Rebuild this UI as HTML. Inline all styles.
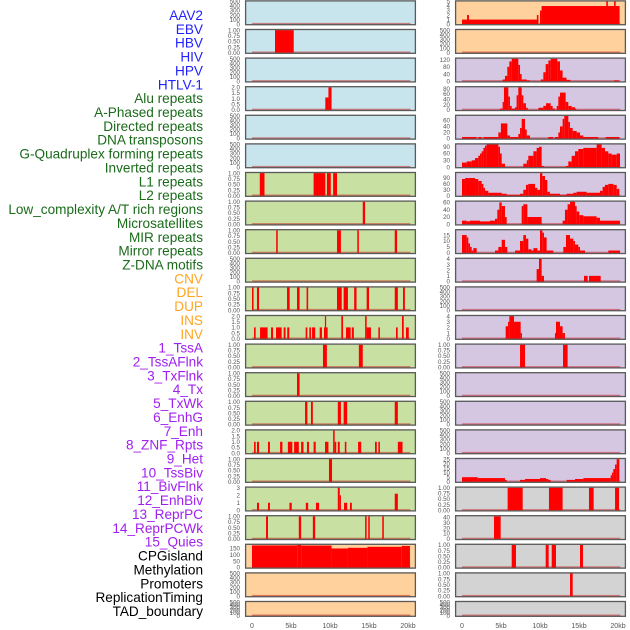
<!DOCTYPE html>
<html><head><meta charset="utf-8">
<style>
html,body{margin:0;padding:0;background:#fff;width:630px;height:630px;overflow:hidden}
svg{display:block;font-family:"Liberation Sans",sans-serif}
</style></head>
<body>
<svg id="chart" width="630" height="630" viewBox="0 0 630 630"></svg>
<script>
const trackLabels=["AAV2","EBV","HBV","HIV","HPV","HTLV-1","Alu repeats","A-Phased repeats","Directed repeats","DNA transposons","G-Quadruplex forming repeats","Inverted repeats","L1 repeats","L2 repeats","Low_complexity A/T rich regions","Microsatellites","MIR repeats","Mirror repeats","Z-DNA motifs","CNV","DEL","DUP","INS","INV","1_TssA","2_TssAFlnk","3_TxFlnk","4_Tx","5_TxWk","6_EnhG","7_Enh","8_ZNF_Rpts","9_Het","10_TssBiv","11_BivFlnk","12_EnhBiv","13_ReprPC","14_ReprPCWk","15_Quies","CPGisland","Methylation","Promoters","ReplicationTiming","TAD_boundary"];
const labelColors=["#2222ff","#2222ff","#2222ff","#2222ff","#2222ff","#2222ff","#1a6b1a","#1a6b1a","#1a6b1a","#1a6b1a","#1a6b1a","#1a6b1a","#1a6b1a","#1a6b1a","#1a6b1a","#1a6b1a","#1a6b1a","#1a6b1a","#1a6b1a","#ffa520","#ffa520","#ffa520","#ffa520","#ffa520","#a020f0","#a020f0","#a020f0","#a020f0","#a020f0","#a020f0","#a020f0","#a020f0","#a020f0","#a020f0","#a020f0","#a020f0","#a020f0","#a020f0","#a020f0","#000","#000","#000","#000","#000"];
const xTickValues=[0,5,10,15,20];
const xTickLabels=["0","5kb","10kb","15kb","20kb"];

// tick sets
const tEmpty=[0,100,200,300,400,500];
const tUnit=[0,0.25,0.5,0.75,1];
const tTwo=[0,0.5,1,1.5,2];

// segments [startKb,endKb,value]
const L2=[[2.95,5.35,1]];
const L4=[[9.4,9.8,1.1],[9.8,10.2,2]];
const L7=[[1.0,1.6,1],[7.9,9.4,1],[9.6,10.1,1],[10.4,10.9,1]];
const L8=[[14.2,14.5,1]];
const L9=[[3.1,3.3,1],[10.9,11.4,1],[13.5,13.7,1],[18.3,18.6,1]];
const L11=[[0,0.2,1],[0.64,0.9,1],[4.49,4.83,1],[5.77,6.1,1],[7.0,7.2,1],[10.9,11.5,1],[11.75,12.3,1],[13.1,13.4,1],[14.7,15.0,1],[18.3,18.7,1],[19.36,19.6,1]];
const L12=[[0.26,0.47,1],[1.03,2.0,1],[2.44,2.7,1],[3.08,3.8,1],[4.06,4.3,1],[4.52,4.78,1],[6.88,7.09,1],[7.35,7.56,1],[7.7,8.1,1],[8.68,8.97,1],[9.23,9.7,1],[9.35,9.5,2],[11.45,11.67,2],[12.05,12.65,1],[12.8,13.06,1],[14.5,14.7,2],[14.7,15.25,1],[16.2,16.4,1],[18.46,18.68,1],[19.23,19.45,2],[19.74,20.1,1]];
const L13=[[9.1,9.6,1],[13.7,14.2,1]];
const L14=[[5.77,6.1,1]];
const L15=[[6.8,7.1,1],[7.56,7.8,1],[11.0,11.4,1],[11.75,12.2,1],[18.3,18.7,1]];
const L16=[[0.26,0.47,1],[0.64,0.9,1],[2.05,2.3,1],[3.6,3.9,1],[4.6,5.17,1],[5.4,6.0,1],[6.3,6.6,1],[7.05,7.3,1],[7.9,8.17,1],[9.36,9.8,1],[10.4,10.6,2],[10.6,10.8,1],[11.0,11.25,1],[11.9,12.1,1],[13.6,14.0,1],[15.77,16.0,1],[16.2,16.4,1],[18.7,19.3,1]];
const L17=[[9.87,10.26,1]];
const L18=[[0.64,0.9,1],[2.05,2.3,1],[4.8,5.1,1],[6.9,7.2,1],[8.2,8.6,1],[11.0,11.25,3],[11.25,11.37,2],[11.8,12.2,1],[12.56,12.8,1],[18.3,18.7,2.2]];
const L19=[[1.8,2.05,1],[6.0,6.3,1],[7.8,8.1,1],[14.5,14.7,1],[14.9,15.1,1],[16.7,16.9,1]];
const L20=[[0,5.8,174],[5.8,6.3,178],[6.3,10.2,173],[10.2,12.3,150],[12.3,14.8,155],[14.8,19.2,163],[19.2,20.25,170]];
const R1=[[0,9.8,1],[0.65,0.9,2],[9.6,9.8,2],[10.0,10.2,3],[10.2,20.2,4],[18.5,18.7,5],[19.5,19.7,5]];
const R3=[[5.21,5.51,10],[5.51,5.81,30],[5.81,6.07,80],[6.07,6.37,110],[6.37,7.22,125],[7.22,7.44,90],[7.44,7.65,40],[7.65,8.3,10],[8.3,8.72,5],[10.1,10.43,10],[10.43,10.73,50],[10.73,11.07,95],[11.07,11.37,115],[11.37,12.22,125],[12.22,12.56,110],[12.56,12.9,60],[12.9,13.4,20],[13.4,13.9,8],[19.5,20.1,5]];
const R4=[[4.87,5.21,5],[5.21,5.38,30],[5.38,5.94,85],[5.94,6.15,50],[6.15,6.37,15],[6.37,6.8,5],[6.8,7.0,10],[7.0,7.22,55],[7.22,7.65,85],[7.65,7.86,55],[7.86,8.2,25],[8.2,8.42,8],[9.8,10.43,8],[10.43,10.77,15],[10.77,11.37,25],[11.37,11.62,15],[11.62,11.92,5],[12.14,12.35,15],[12.35,12.56,50],[12.56,13.29,65],[13.29,13.63,30],[13.63,14.06,15],[14.06,14.49,10],[14.49,14.6,5]];
const R5=[[0,1.88,5],[2.09,2.52,5],[2.74,4.66,5],[4.66,4.99,20],[4.99,5.81,50],[5.81,6.15,10],[6.15,7.22,5],[7.22,7.44,15],[7.44,7.65,35],[7.65,8.08,65],[8.08,8.3,30],[8.3,8.72,10],[11.07,11.71,5],[11.92,12.35,5],[12.35,12.56,20],[12.56,12.9,40],[12.9,13.11,65],[13.11,13.63,75],[13.63,13.85,55],[13.85,14.19,35],[14.19,14.7,25],[14.7,15.13,20],[15.13,15.56,10],[15.56,17.48,5],[18.42,20.17,5]];
const R6=[[0,0.6,20],[0.6,1.24,25],[1.24,1.67,30],[1.67,2.09,40],[2.09,2.31,50],[2.31,2.52,60],[2.52,2.74,70],[2.74,2.95,85],[2.95,3.16,95],[3.16,4.66,100],[4.66,4.87,90],[4.87,5.09,60],[5.09,5.51,15],[7.86,8.3,15],[8.3,8.5,30],[8.5,9.15,50],[9.15,9.57,70],[9.57,9.87,85],[9.87,10.21,90],[10.21,10.51,5],[13.33,13.63,5],[13.63,14.06,25],[14.06,14.49,50],[14.49,14.91,70],[14.91,15.56,80],[15.56,17.26,85],[17.26,17.9,100],[17.9,18.33,85],[18.33,18.76,70],[18.76,19.19,60],[19.19,19.83,55],[19.83,20.26,60]];
const R7=[[0,0.39,85],[0.39,1.67,90],[1.67,2.09,85],[2.09,2.52,75],[2.52,2.74,60],[2.74,2.95,40],[2.95,3.38,25],[3.38,5.09,15],[5.09,5.73,10],[5.73,7.44,5],[7.44,7.86,10],[7.86,8.2,30],[8.2,8.5,55],[8.5,9.36,60],[9.36,9.66,40],[9.66,10.0,30],[10.0,10.3,115],[10.3,10.64,100],[10.64,10.94,80],[10.94,11.28,20],[11.28,12.56,10],[12.56,13.42,5],[13.42,14.27,10],[14.27,14.7,15],[14.7,15.98,20],[15.98,17.69,15],[17.69,18.03,25],[18.03,18.33,45],[18.33,18.76,55],[18.76,19.4,60],[19.4,19.83,55],[19.83,20.17,35]];
const R8=[[0,0.6,10],[0.6,1.03,8],[1.03,2.31,10],[2.31,3.59,8],[3.59,4.23,10],[4.23,4.53,15],[4.53,4.79,40],[4.79,5.09,60],[5.09,5.51,50],[5.51,5.73,20],[7.65,7.86,50],[7.86,8.38,55],[8.38,10.21,20],[12.9,13.2,10],[13.2,13.54,40],[13.54,13.85,55],[13.85,14.49,62],[14.49,14.7,50],[14.7,15.04,35],[15.04,15.56,25],[15.56,17.26,22],[17.26,17.69,18],[17.69,20.26,10]];
const R9=[[0,0.6,15],[0.6,0.81,13],[0.81,1.03,8],[1.03,1.24,5],[1.24,1.45,2],[1.45,1.88,4],[4.23,4.66,2],[4.66,5.09,5],[5.09,5.51,11],[5.51,5.81,5],[6.8,7.44,2],[7.44,7.86,10],[7.86,8.2,15],[8.2,8.5,12],[8.5,8.93,3],[8.93,9.15,2],[9.15,9.66,4],[9.66,10.0,2],[10.0,10.3,19],[10.3,10.51,17],[10.51,10.85,13],[10.85,11.71,2],[12.99,13.33,5],[13.33,13.85,15],[13.85,14.27,12],[14.27,14.49,10],[14.49,14.91,7],[14.91,15.13,5],[15.13,15.77,2],[18.76,20.26,2]];
const R10=[[9.57,9.87,2.2],[9.87,10.21,4],[10.21,10.51,1],[15.64,16.11,1],[16.28,17.78,1]];
const R12=[[5.6,5.9,2.2],[5.9,6.07,3],[6.07,6.67,4],[6.67,7.52,3],[7.52,7.69,1],[11.92,12.05,1],[12.05,12.56,3],[12.56,12.9,2.2],[12.9,13.2,1]];
const R13=[[7.44,8.08,1],[12.95,13.54,1]];
const R17=[[0,2.01,5],[2.01,5.51,4],[5.51,5.73,2],[7.44,8.08,2],[8.08,10.0,3],[10.0,10.77,4],[10.77,11.07,3],[11.07,11.37,2],[13.42,14.49,2],[14.49,15.56,3],[15.56,19.06,4],[19.06,19.23,7],[19.23,19.4,10],[19.4,19.62,14],[19.62,19.83,19],[19.83,20.17,25]];
const R18=[[5.85,7.78,1],[11.15,12.9,1],[16.28,16.88,1],[19.62,20.13,1]];
const R19=[[4.1,4.96,42]];
const R20=[[6.37,6.92,1],[10.73,11.11,1],[11.5,12.05,1],[15.13,15.51,1]];
const R21=[[13.85,14.19,1]];

const BLUE="#c8e4ec",GREEN="#c8e0a1",PEACH="#fed19d",LAV="#d5c6e2",GREY="#d3d3d3";
const panels=[
 {c:0,r:0,bg:BLUE,t:tEmpty,s:[]},{c:0,r:1,bg:BLUE,t:tUnit,s:L2},{c:0,r:2,bg:BLUE,t:tEmpty,s:[]},
 {c:0,r:3,bg:BLUE,t:tTwo,s:L4},{c:0,r:4,bg:BLUE,t:tEmpty,s:[]},{c:0,r:5,bg:BLUE,t:tEmpty,s:[]},
 {c:0,r:6,bg:GREEN,t:tUnit,s:L7},{c:0,r:7,bg:GREEN,t:tUnit,s:L8},{c:0,r:8,bg:GREEN,t:tUnit,s:L9},
 {c:0,r:9,bg:GREEN,t:tEmpty,s:[]},{c:0,r:10,bg:GREEN,t:tUnit,s:L11},{c:0,r:11,bg:GREEN,t:tTwo,s:L12},
 {c:0,r:12,bg:GREEN,t:tUnit,s:L13},{c:0,r:13,bg:GREEN,t:tUnit,s:L14},{c:0,r:14,bg:GREEN,t:tUnit,s:L15},
 {c:0,r:15,bg:GREEN,t:tTwo,s:L16},{c:0,r:16,bg:GREEN,t:tUnit,s:L17},{c:0,r:17,bg:GREEN,t:[0,1,2,3],s:L18},
 {c:0,r:18,bg:GREEN,t:tUnit,s:L19},{c:0,r:19,bg:PEACH,t:[0,50,100,150],s:L20},{c:0,r:20,bg:PEACH,t:tEmpty,s:[]},
 {c:0,r:21,bg:PEACH,t:tEmpty,s:[],short:true},
 {c:1,r:0,bg:PEACH,t:[0,1,2,3,4,5],s:R1},{c:1,r:1,bg:PEACH,t:tEmpty,s:[]},{c:1,r:2,bg:LAV,t:[0,40,80,120],s:R3},
 {c:1,r:3,bg:LAV,t:[0,20,40,60,80],s:R4},{c:1,r:4,bg:LAV,t:[0,20,40,60],s:R5},{c:1,r:5,bg:LAV,t:[0,30,60,90],s:R6},
 {c:1,r:6,bg:LAV,t:[0,30,60,90],s:R7},{c:1,r:7,bg:LAV,t:[0,20,40,60],s:R8},{c:1,r:8,bg:LAV,t:[0,5,10,15],s:R9},
 {c:1,r:9,bg:LAV,t:[0,1,2,3,4],s:R10},{c:1,r:10,bg:LAV,t:tEmpty,s:[]},{c:1,r:11,bg:LAV,t:[0,1,2,3,4],s:R12},
 {c:1,r:12,bg:LAV,t:tUnit,s:R13},{c:1,r:13,bg:LAV,t:tEmpty,s:[]},{c:1,r:14,bg:LAV,t:tEmpty,s:[]},
 {c:1,r:15,bg:LAV,t:tEmpty,s:[]},{c:1,r:16,bg:LAV,t:[0,5,10,15,20,25],s:R17},{c:1,r:17,bg:GREY,t:tUnit,s:R18},
 {c:1,r:18,bg:GREY,t:[0,10,20,30,40],s:R19},{c:1,r:19,bg:GREY,t:tUnit,s:R20},{c:1,r:20,bg:GREY,t:tUnit,s:R21},
 {c:1,r:21,bg:GREY,t:tEmpty,s:[],short:true}
];

const NS="http://www.w3.org/2000/svg";
const svg=document.getElementById('chart');
function mk(tag,attrs,parent){const e=document.createElementNS(NS,tag);for(const k in attrs)e.setAttribute(k,attrs[k]);(parent||svg).appendChild(e);return e;}
const colLeft=[245,455],panelW=171,KB=7.8;
function xScale(c,kb){return colLeft[c]+7+kb*KB;}
function panelTop(r){return 0.3+r*28.6;}
function fmtTick(t,v){if(t===tUnit)return v.toFixed(2);if(t===tTwo)return v.toFixed(1);return String(v);}

// labels
trackLabels.forEach((lab,i)=>{
  const e=mk('text',{x:203,y:15+i*13.86+5,'text-anchor':'end','font-size':'13.6',fill:labelColors[i]});
  e.textContent=lab;
  
  
});

panels.forEach((p,idx)=>{
  const g=mk('g',{});
  
  
  const top=panelTop(p.r),h=p.short?16:25,bot=top+h,x0=colLeft[p.c];
  let dmax=0;p.s.forEach(s=>{if(s[2]>dmax)dmax=s[2];});
  const ymax=Math.max(p.t[p.t.length-1],dmax);
  const yS=v=>bot-1.2-v/ymax*(h-2.4);
  const bg=mk('rect',{x:x0,y:top,width:panelW,height:h,fill:p.bg},g);
  
  
  const base=mk('rect',{x:xScale(p.c,0),y:bot-2.4,width:20.3*KB,height:1.6,fill:'rgba(200,0,0,0.45)'},g);
  
  
  p.s.forEach(s=>{
    const x1=xScale(p.c,s[0]),x2=xScale(p.c,s[1]),y=yS(s[2]);
    const b=mk('rect',{x:x1,y:y,width:Math.max(x2-x1,1.2),height:Math.max(bot-1.2-y,0),fill:'#ff0000'},g);
    
    
  });
  const fr=mk('rect',{x:x0+0.6,y:top+0.6,width:panelW-1.2,height:h-1.2,fill:'none',stroke:'#5a5a5a','stroke-width':1.3},g);
  
  
  p.t.forEach(v=>{
    const tx=mk('text',{x:x0-5,y:yS(v)+2.2,'text-anchor':'end','font-size':'6.2',fill:'#555'},g);
    tx.textContent=fmtTick(p.t,v);
    
    
  });
});

[0,1].forEach(c=>{
  xTickValues.forEach((v,i)=>{
    const tx=mk('text',{x:xScale(c,v),y:628,'text-anchor':'middle','font-size':'7',fill:'#555'});
    tx.textContent=xTickLabels[i];
    
    
  });
});
</script>
</body></html>
